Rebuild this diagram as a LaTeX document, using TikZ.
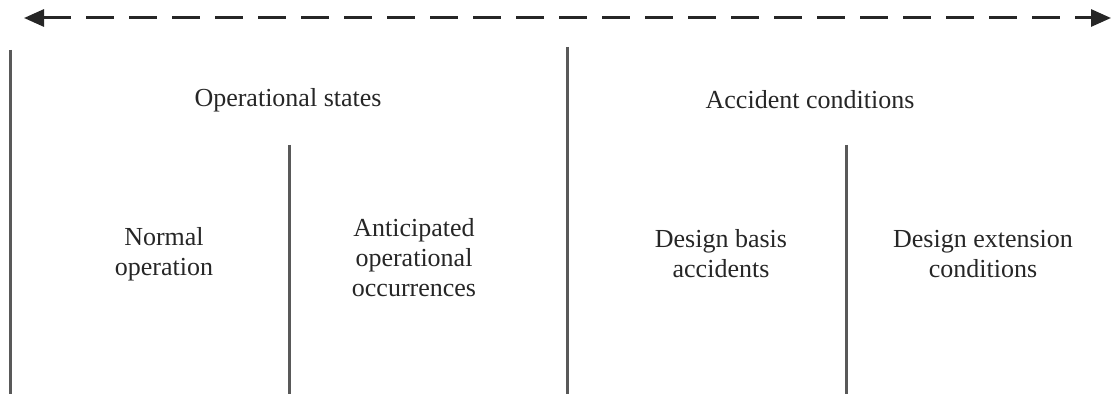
\documentclass[tikz,border=0pt]{standalone}
\usepackage{fontspec}
\setmainfont{Liberation Serif}
\usetikzlibrary{arrows.meta}
\tikzset{
  divider/.style={line width=3pt, draw=black!65},
  label/.style={align=center, text=black!85, font=\fontsize{26}{30}\selectfont}
}
\begin{document}
\begin{tikzpicture}[x=1pt, y=-1pt]
  \useasboundingbox (0,0) rectangle (1115,398);
  % range arrow
  \coordinate (lft) at (24,18);
  \coordinate (rgt) at (1111,18);
  \draw[{Triangle[length=20pt,width=17pt]}-{Triangle[length=20pt,width=17pt]},
    line width=3pt, black!85, dash pattern=on 28pt off 15pt] (lft) -- (rgt);
  % dividers
  \draw[divider] (10,50) -- (10,394);
  \draw[divider] (567,47) -- (567,394);
  \draw[divider] (289,145) -- (289,394);
  \draw[divider] (846,145) -- (846,394);
  % headings
  \node[label] (ops) at (288,100) {Operational states};
  \node[label] (acc) at (810,100) {Accident conditions};
  % categories
  \node[label] (normal) at (164,254) {Normal\\operation};
  \node[label] (aoo) at (414,258) {Anticipated\\operational\\occurrences};
  \node[label] (dba) at (721,254) {Design basis\\accidents};
  \node[label] (dec) at (983,254) {Design extension\\conditions};
\end{tikzpicture}
\end{document}
